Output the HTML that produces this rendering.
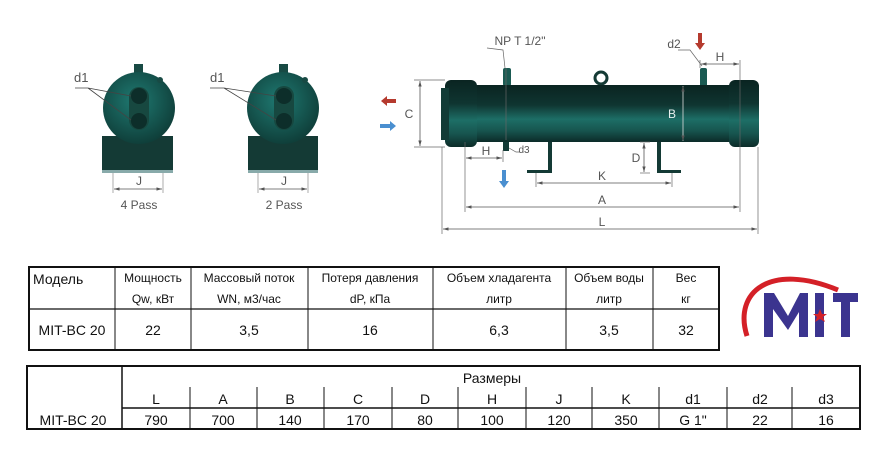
<!DOCTYPE html>
<html><head><meta charset="utf-8"><style>
body{margin:0;background:#fff;width:883px;height:456px;overflow:hidden}
svg{display:block}
.t{font-family:"Liberation Sans","DejaVu Sans",sans-serif;fill:#111}
.g{font-family:"Liberation Sans",sans-serif;fill:#555}
</style></head><body>
<svg width="883" height="456" viewBox="0 0 883 456" xmlns="http://www.w3.org/2000/svg">
<defs>
<linearGradient id="cyl" x1="0" y1="0" x2="0" y2="1">
<stop offset="0" stop-color="#0a2421"/><stop offset="0.35" stop-color="#0f3531"/><stop offset="0.6" stop-color="#1d6e66"/><stop offset="0.8" stop-color="#17554f"/><stop offset="1" stop-color="#0c2b28"/></linearGradient>
<radialGradient id="fr" cx="0.45" cy="0.4" r="0.6"><stop offset="0" stop-color="#1f7a72"/><stop offset="1" stop-color="#0f3f3a"/></radialGradient>
<marker id="ar" viewBox="0 0 10 10" refX="10" refY="5" markerWidth="7" markerHeight="7" orient="auto-start-reverse"><path d="M0,2 L10,5 L0,8 z" fill="#555"/></marker>
</defs>

<!-- front view 1 -->
<g>
<rect x="102" y="136" width="71" height="37" fill="#143a35"/>
<rect x="102" y="170" width="71" height="3" fill="#8aa"/>
<rect x="134" y="64" width="9" height="14" fill="#184a44"/>
<circle cx="139" cy="108" r="36" fill="url(#fr)"/>
<circle cx="160" cy="80" r="3" fill="#184a44"/>
<rect x="129" y="87" width="20" height="43" rx="10" fill="#174840"/>
<circle cx="139" cy="96" r="8" fill="#0d2e2a"/><circle cx="139" cy="121" r="8" fill="#0d2e2a"/>
<path d="M75,88 L88,88 L131,96 M88,88 L131,120" stroke="#444" stroke-width="0.8" fill="none"/>
<text x="74" y="82" class="g" font-size="13">d1</text>
<line x1="113" y1="173" x2="113" y2="193" stroke="#888" stroke-width="0.7"/><line x1="163" y1="173" x2="163" y2="193" stroke="#888" stroke-width="0.7"/>
<line x1="114" y1="189" x2="162" y2="189" stroke="#555" stroke-width="0.8" marker-start="url(#ar)" marker-end="url(#ar)"/>
<text x="139" y="185" class="g" font-size="12" text-anchor="middle">J</text>
<text x="139" y="209" class="g" font-size="12" text-anchor="middle">4 Pass</text>
</g>
<!-- front view 2 -->
<g>
<rect x="248" y="136" width="70" height="37" fill="#143a35"/>
<rect x="248" y="170" width="70" height="3" fill="#8aa"/>
<rect x="279" y="64" width="9" height="14" fill="#184a44"/>
<circle cx="283" cy="108" r="36" fill="url(#fr)"/>
<circle cx="305" cy="80" r="3" fill="#184a44"/>
<rect x="274" y="86" width="20" height="44" rx="10" fill="#174840"/>
<circle cx="284" cy="96" r="8" fill="#0d2e2a"/><circle cx="284" cy="121" r="8" fill="#0d2e2a"/>
<path d="M210,88 L224,88 L276,96 M224,88 L276,120" stroke="#444" stroke-width="0.8" fill="none"/>
<text x="210" y="82" class="g" font-size="13">d1</text>
<line x1="258" y1="173" x2="258" y2="193" stroke="#888" stroke-width="0.7"/><line x1="308" y1="173" x2="308" y2="193" stroke="#888" stroke-width="0.7"/>
<line x1="259" y1="189" x2="307" y2="189" stroke="#555" stroke-width="0.8" marker-start="url(#ar)" marker-end="url(#ar)"/>
<text x="284" y="185" class="g" font-size="12" text-anchor="middle">J</text>
<text x="284" y="209" class="g" font-size="12" text-anchor="middle">2 Pass</text>
</g>

<!-- side view -->
<g>
<rect x="548" y="130" width="4" height="42" fill="#143a35"/><rect x="527" y="170" width="25" height="3" fill="#143a35"/>
<rect x="657" y="130" width="4" height="42" fill="#143a35"/><rect x="657" y="170" width="24" height="3" fill="#143a35"/>
<rect x="503" y="68" width="8" height="18" rx="2" fill="#1a5a52"/>
<rect x="700" y="68" width="7" height="26" rx="2" fill="#1a5a52"/>
<rect x="503" y="140" width="6" height="11" fill="#123b36"/>
<circle cx="601" cy="78" r="6" fill="none" stroke="#143a35" stroke-width="3"/>
<rect x="470" y="85" width="264" height="57" fill="url(#cyl)"/>
<rect x="445" y="80" width="32" height="67" rx="6" fill="url(#cyl)"/>
<rect x="441" y="88" width="8" height="52" fill="#123b36"/>
<rect x="729" y="80" width="30" height="67" rx="6" fill="url(#cyl)"/>
<g stroke="#666" stroke-width="0.7" fill="none">
<line x1="414" y1="80" x2="445" y2="80"/><line x1="414" y1="147" x2="445" y2="147"/>
<line x1="442" y1="147" x2="442" y2="234"/><line x1="758" y1="147" x2="758" y2="234"/>
<line x1="465" y1="142" x2="465" y2="212"/><line x1="740" y1="60" x2="740" y2="212"/>
<line x1="503" y1="150" x2="503" y2="162"/><line x1="700" y1="60" x2="700" y2="68"/>
<line x1="536" y1="173" x2="536" y2="187"/><line x1="672" y1="173" x2="672" y2="187"/>
<line x1="640" y1="142" x2="650" y2="142"/><line x1="640" y1="173" x2="650" y2="173"/>
<path d="M487,48 L503,50 L505,68"/><path d="M678,50 L690,50 L702,66"/><path d="M509,148 L516,152 L520,152"/>
<line x1="506" y1="68" x2="506" y2="140"/>
</g>
<g stroke="#555" stroke-width="0.8">
<line x1="420" y1="81" x2="420" y2="146" marker-start="url(#ar)" marker-end="url(#ar)"/>
<line x1="683" y1="86" x2="683" y2="141" stroke="#ddd" marker-start="url(#ar)" marker-end="url(#ar)"/>
<line x1="644" y1="143" x2="644" y2="172" marker-start="url(#ar)" marker-end="url(#ar)"/>
<line x1="537" y1="183" x2="671" y2="183" marker-start="url(#ar)" marker-end="url(#ar)"/>
<line x1="466" y1="207" x2="739" y2="207" marker-start="url(#ar)" marker-end="url(#ar)"/>
<line x1="443" y1="229" x2="757" y2="229" marker-start="url(#ar)" marker-end="url(#ar)"/>
<line x1="466" y1="158" x2="502" y2="158" marker-start="url(#ar)" marker-end="url(#ar)"/>
<line x1="701" y1="64" x2="739" y2="64" marker-start="url(#ar)" marker-end="url(#ar)"/>
</g>
<g class="g" font-size="12" text-anchor="middle">
<text x="409" y="118">C</text><text x="672" y="118" fill="#e8f0f0">B</text><text x="636" y="162">D</text>
<text x="602" y="180">K</text><text x="602" y="204">A</text><text x="602" y="226">L</text>
<text x="486" y="155">H</text><text x="720" y="61">H</text>
<text x="520" y="45">NP T 1/2"</text><text x="674" y="48">d2</text><text x="524" y="153" font-size="10">d3</text>
</g>
<path d="M381,101 L387,96 L387,99 L396,99 L396,103 L387,103 L387,106 z" fill="#b53a2e"/>
<path d="M396,126 L390,121 L390,124 L380,124 L380,128 L390,128 L390,131 z" fill="#4a8fd0"/>
<path d="M504,188 L499,181 L502,181 L502,170 L506,170 L506,181 L509,181 z" fill="#4a8fd0"/>
<path d="M700,50 L695,43 L698,43 L698,33 L702,33 L702,43 L705,43 z" fill="#b53a2e"/>
</g>

<!-- table 1 -->
<g stroke="#111" fill="none">
<rect x="29" y="267" width="690" height="83" stroke-width="2"/>
<line x1="29" y1="309" x2="719" y2="309" stroke-width="1.2"/>
<line x1="115" y1="267" x2="115" y2="350"/><line x1="191" y1="267" x2="191" y2="350"/>
<line x1="308" y1="267" x2="308" y2="350"/><line x1="433" y1="267" x2="433" y2="350"/>
<line x1="566" y1="267" x2="566" y2="350"/><line x1="653" y1="267" x2="653" y2="350"/>
</g>
<g class="t" font-size="12" text-anchor="middle">
<text x="33" y="284" text-anchor="start" font-size="14">Модель</text>
<text x="153" y="282">Мощность</text><text x="153" y="303">Qw, кВт</text>
<text x="249" y="282">Массовый поток</text><text x="249" y="303">WN, м3/час</text>
<text x="370" y="282">Потеря давления</text><text x="370" y="303">dP, кПа</text>
<text x="499" y="282">Объем хладагента</text><text x="499" y="303">литр</text>
<text x="609" y="282">Объем воды</text><text x="609" y="303">литр</text>
<text x="686" y="282">Вес</text><text x="686" y="303">кг</text>
<g font-size="14"><text x="72" y="335">MIT-BC 20</text><text x="153" y="335">22</text><text x="249" y="335">3,5</text>
<text x="370" y="335">16</text><text x="499" y="335">6,3</text><text x="609" y="335">3,5</text><text x="686" y="335">32</text></g>
</g>

<!-- logo -->
<path d="M747,336 C733,292 770,262 838,290" stroke="#d42027" stroke-width="5" fill="none"/>
<path d="M764,337 L764,293 L774,293 L788,316 L800,293 L808,293 L808,337 L799,337 L799,312 L788,330 L773,309 L773,337 z" fill="#3b348f"/>
<rect x="815" y="293" width="9" height="44" fill="#3b348f"/>
<rect x="833" y="293" width="25" height="9" fill="#3b348f"/><rect x="841" y="293" width="9" height="44" fill="#3b348f"/>
<polygon points="820,309 822,314 827,314 823,317 825,322 820,319 815,322 817,317 813,314 818,314" fill="#d42027"/>

<!-- table 2 -->
<g stroke="#111" fill="none">
<rect x="27" y="366" width="833" height="63" stroke-width="2"/>
<line x1="122" y1="366" x2="122" y2="429" stroke-width="1.5"/>
<line x1="122" y1="408" x2="860" y2="408" stroke-width="1.5"/>
<line x1="190" y1="387" x2="190" y2="429"/><line x1="257" y1="387" x2="257" y2="429"/><line x1="324" y1="387" x2="324" y2="429"/>
<line x1="392" y1="387" x2="392" y2="429"/><line x1="458" y1="387" x2="458" y2="429"/><line x1="526" y1="387" x2="526" y2="429"/>
<line x1="592" y1="387" x2="592" y2="429"/><line x1="659" y1="387" x2="659" y2="429"/><line x1="727" y1="387" x2="727" y2="429"/>
<line x1="792" y1="387" x2="792" y2="429"/>
</g>
<g class="t" font-size="14" text-anchor="middle">
<text x="492" y="383">Размеры</text>
<text x="156" y="404">L</text><text x="223" y="404">A</text><text x="290" y="404">B</text><text x="358" y="404">C</text>
<text x="425" y="404">D</text><text x="492" y="404">H</text><text x="559" y="404">J</text><text x="626" y="404">K</text>
<text x="693" y="404">d1</text><text x="760" y="404">d2</text><text x="826" y="404">d3</text>
<text x="73" y="425">MIT-BC 20</text>
<text x="156" y="425">790</text><text x="223" y="425">700</text><text x="290" y="425">140</text><text x="358" y="425">170</text>
<text x="425" y="425">80</text><text x="492" y="425">100</text><text x="559" y="425">120</text><text x="626" y="425">350</text>
<text x="693" y="425">G 1"</text><text x="760" y="425">22</text><text x="826" y="425">16</text>
</g>
</svg>
</body></html>
